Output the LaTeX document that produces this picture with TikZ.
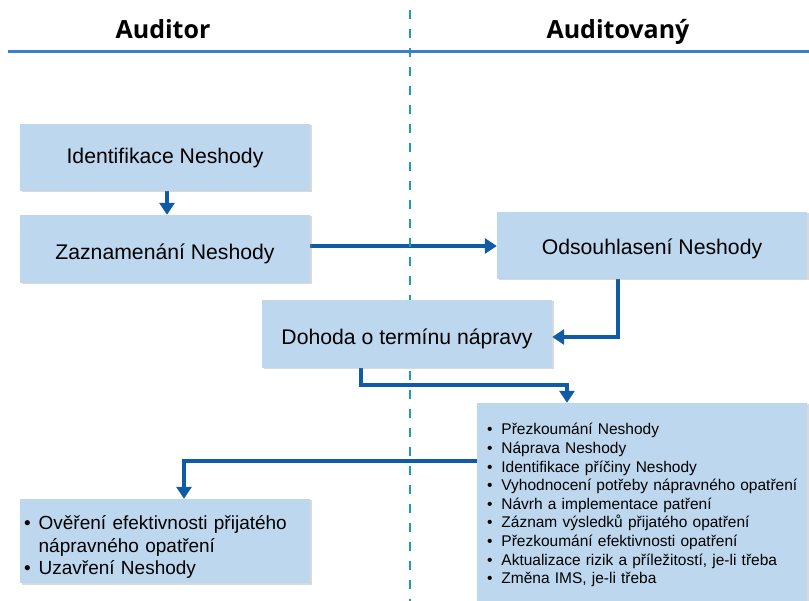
\documentclass[tikz,border=0pt]{standalone}
\usepackage{fontspec}
\setmainfont{Liberation Sans}
\newfontfamily\headfont{Open Sans}
\usetikzlibrary{arrows.meta,shadows,backgrounds}

\definecolor{boxblue}{HTML}{BDD7EE}
\definecolor{flowblue}{HTML}{0F5BA7}
\definecolor{rulecol}{HTML}{3A7FCC}
\definecolor{lanecol}{HTML}{1E9EA8}

\begin{document}
\begin{tikzpicture}[x=1pt, y=-1pt,
    box/.style={fill=boxblue, draw=none, minimum width=290pt,
      drop shadow={opacity=0.3, shadow xshift=1.5pt, shadow yshift=-1.5pt}},
    stepbox/.style={box, minimum height=67pt, text height=19pt, text depth=0pt,
      font=\fontsize{21.2}{25}\selectfont},
    listbox/.style={box, align=left, inner xsep=0pt, inner ysep=0pt},
    flow/.style={draw=flowblue, line width=4pt, -{Triangle[width=15pt,length=12pt]}},
    lane/.style={draw=lanecol, line width=2.5pt, dash pattern=on 9pt off 10pt},
    head/.style={anchor=base, font=\headfont\bfseries\fontsize{25}{30}\selectfont}]
  \useasboundingbox (0,0) rectangle (809,601);

  %% swimlane headers
  \node[head] (aud) at (163,38.5) {Auditor};
  \node[head] (audv) at (618,38.5) {Auditovaný};
  \draw[rulecol, line width=3pt] (8,51.5) -- (809,51.5);

  %% steps
  \node[stepbox, text height=12pt] (ident) at (165,157.5) {Identifikace Neshody};
  \node[stepbox, minimum height=68pt, text height=22pt] (zazn) at (165,249) {Zaznamenání Neshody};
  \node[stepbox, minimum width=310pt] (odsl) at (652,245.5) {Odsouhlasení Neshody};
  \node[stepbox, minimum height=68pt, text height=21pt] (doh) at (407,334) {Dohoda o termínu nápravy};
  \node[listbox, minimum width=330pt, minimum height=198pt, text width=310pt,
        font=\fontsize{15.5}{18.6}\selectfont] (napr) at (642,502) {%
    \raisebox{-3.5pt}[\height][\depth]{%
    \begin{tabular}{@{}l@{\hspace{9pt}}l@{}}
      \textbullet & Přezkoumání Neshody\\
      \textbullet & Náprava Neshody\\
      \textbullet & Identifikace příčiny Neshody\\
      \textbullet & Vyhodnocení potřeby nápravného opatření\\
      \textbullet & Návrh a implementace patření\\
      \textbullet & Záznam výsledků přijatého opatření\\
      \textbullet & Přezkoumání efektivnosti opatření\\
      \textbullet & Aktualizace rizik a příležitostí, je-li třeba\\
      \textbullet & Změna IMS, je-li třeba
    \end{tabular}}};
  \node[listbox, minimum height=84pt, text width=282pt,
        font=\fontsize{19}{22.5}\selectfont] (over) at (165,541) {%
    \raisebox{-6.5pt}[\height][\depth]{%
    \begin{tabular}{@{}l@{\hspace{8pt}}l@{}}
      \textbullet & Ověření efektivnosti přijatého\\
                  & nápravného opatření\\
      \textbullet & Uzavření Neshody
    \end{tabular}}};

  \begin{scope}[on background layer]
    %% connectors
    \draw[flow] (ident.south -| 167,0) -- (zazn.north -| 167,0);
    \draw[flow] (zazn.east |- 0,246) -- (odsl.west |- 0,246);
    \draw[flow] (odsl.south -| 618,0) |- (doh.east |- 0,337);
    \draw[flow] (doh.south -| 361,0) -- (361,385) -- (567,385) -- (napr.north -| 567,0);
    \draw[flow] (napr.west |- 0,461) -| (over.north -| 184,0);
    %% lane divider
    \draw[lane] (410,10) -- (410,601);
  \end{scope}
\end{tikzpicture}
\end{document}
